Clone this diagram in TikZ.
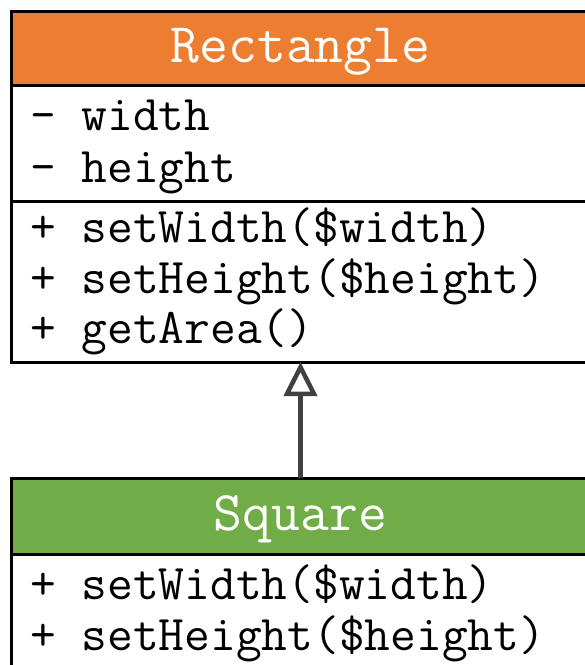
\documentclass[tikz,border=0pt]{standalone}
\usepackage{fontspec}
\usetikzlibrary{arrows.meta}
\definecolor{hdrorange}{HTML}{ED7D31}
\definecolor{hdrgreen}{HTML}{70AD47}
\definecolor{linkgray}{HTML}{404040}
\begin{document}
\begin{tikzpicture}[x=1pt,y=-1pt,
  compart/.style={draw=black, line width=3pt, inner sep=0pt, outer sep=0pt,
    minimum width=579pt, anchor=north west},
  classtitle/.style={anchor=base, text=white, inner sep=0pt,
    font=\ttfamily\fontsize{56}{62}\selectfont},
  member/.style={anchor=base west, text=black, inner sep=0pt,
    font=\ttfamily\fontsize{50}{56}\selectfont},
  generalization/.style={draw=linkgray, line width=4.5pt,
    -{Triangle[open, length=34pt, width=33pt]}}]
  \useasboundingbox (0,0) rectangle (585,665);
  \clip (0,0) rectangle (585,665);

  % class Rectangle
  \node[compart, fill=hdrorange, minimum height=74pt] (recthead) at (11,11) {};
  \node[compart, fill=white, minimum height=116pt] (rectattr) at (11,85) {};
  \node[compart, fill=white, minimum height=161pt] (rectmeth) at (11,201) {};
  \node[classtitle] (recttitle) at (300.5,62) {Rectangle};
  \node[member] (rw) at (30,130) {- width};
  \node[member] (rh) at (30,182) {- height};
  \node[member] (rsw) at (30,242) {+ setWidth(\$width)};
  \node[member] (rsh) at (30,293) {+ setHeight(\$height)};
  \node[member] (rga) at (30,343) {+ getArea()};

  % class Square
  \node[compart, fill=hdrgreen, minimum height=76pt] (sqhead) at (11,478) {};
  \node[compart, fill=white, minimum height=150pt] (sqmeth) at (11,554) {};
  \node[classtitle] (sqtitle) at (300.5,530) {Square};
  \node[member] (ssw) at (30,599) {+ setWidth(\$width)};
  \node[member] (ssh) at (30,650) {+ setHeight(\$height)};

  % inheritance
  \draw[generalization] (sqhead.north) -- (rectmeth.south);
\end{tikzpicture}
\end{document}
